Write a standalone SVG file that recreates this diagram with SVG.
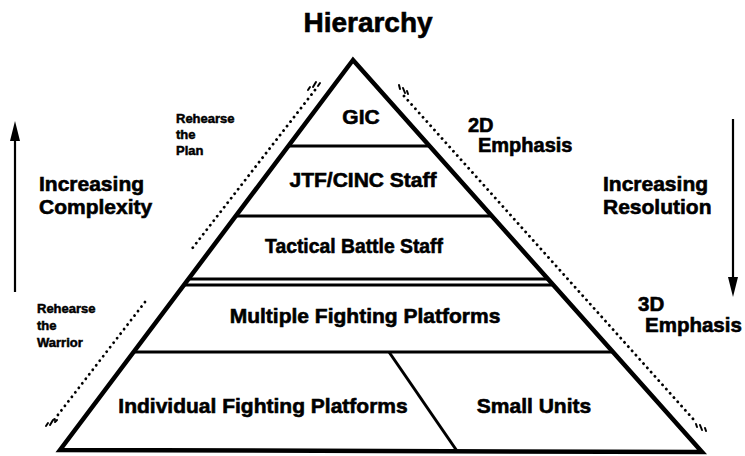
<svg xmlns="http://www.w3.org/2000/svg" width="745" height="456" viewBox="0 0 745 456">
<defs>
<style>
.t{font-family:"Liberation Sans",Arial,sans-serif;font-weight:bold;fill:#000;stroke:#000;stroke-width:0.6}
.big{font-size:21px}
.sm{font-size:13px;stroke-width:0.5}
.edge{fill:none;stroke:#000;stroke-width:4.5;stroke-linejoin:miter}
.div{fill:none;stroke:#000;stroke-width:3}
.dot{fill:none;stroke:#000;stroke-width:2.8;stroke-linecap:round;stroke-dasharray:0.1 5.6}
.tick{fill:none;stroke:#000;stroke-width:2;stroke-linecap:round}
.arr{fill:none;stroke:#000;stroke-width:2.2}
</style>
</defs>
<rect width="745" height="456" fill="#fff"/>
<text class="t" x="368" y="32" font-size="28" text-anchor="middle">Hierarchy</text>

<g id="pyramid">
<polygon class="edge" points="353,60 60,450 702,452"/>
</g>

<g id="tier-gic">
<text class="t big" x="361" y="124" text-anchor="middle">GIC</text>
</g>
<g id="tier-jtf">
<line class="div" x1="288" y1="146" x2="430" y2="146"/>
<text class="t big" x="363" y="187" text-anchor="middle">JTF/CINC Staff</text>
</g>
<g id="tier-tactical">
<line class="div" x1="236" y1="216" x2="492" y2="216"/>
<text class="t big" x="354" y="253" text-anchor="middle" textLength="178" lengthAdjust="spacingAndGlyphs">Tactical Battle Staff</text>
</g>
<g id="tier-multiple">
<line class="div" x1="188" y1="279" x2="548" y2="279"/>
<line class="div" x1="184" y1="285" x2="553" y2="285"/>
<text class="t big" x="365" y="323" text-anchor="middle">Multiple Fighting Platforms</text>
</g>
<g id="tier-individual">
<line class="div" x1="134" y1="352" x2="613" y2="352"/>
<text class="t big" x="263" y="413" text-anchor="middle">Individual Fighting Platforms</text>
</g>
<g id="tier-small">
<line class="div" x1="389" y1="352" x2="457" y2="451"/>
<text class="t big" x="534" y="413" text-anchor="middle">Small Units</text>
</g>

<g id="label-complexity">
<text class="t big" x="39" y="191">Increasing</text>
<text class="t big" x="39" y="214">Complexity</text>
</g>
<g id="label-resolution">
<text class="t big" x="603" y="191">Increasing</text>
<text class="t big" x="603" y="214">Resolution</text>
</g>
<g id="label-2d">
<text class="t" font-size="20" x="468" y="132">2D</text>
<text class="t" font-size="20" x="478" y="152">Emphasis</text>
</g>
<g id="label-3d">
<text class="t" font-size="20.5" x="638" y="311">3D</text>
<text class="t" font-size="20.5" x="645" y="332">Emphasis</text>
</g>
<g id="label-plan">
<text class="t sm" x="176" y="123">Rehearse</text>
<text class="t sm" x="176" y="139">the</text>
<text class="t sm" x="176" y="155">Plan</text>
</g>
<g id="label-warrior">
<text class="t sm" x="37" y="313">Rehearse</text>
<text class="t sm" x="37" y="330">the</text>
<text class="t sm" x="37" y="347">Warrior</text>
</g>

<g id="connectors">
<line class="arr" x1="15" y1="292" x2="15" y2="136"/>
<polygon points="15,121 10,141 20,141" fill="#000"/>
<line class="arr" x1="733" y1="119" x2="733" y2="282"/>
<polygon points="733,297 728,277 738,277" fill="#000"/>

<line class="dot" x1="315" y1="90" x2="191" y2="250"/>
<path class="tick" d="M308,90 l2,-3 M313,87 l3,-5 M318,86 l2,-3"/>
<line class="dot" x1="145" y1="302" x2="54" y2="420"/>
<path class="tick" d="M46,426 l2,-3 M50,425 l3,-5 M55,422 l2,-2"/>
<line class="dot" x1="404" y1="96" x2="694" y2="420"/>
<path class="tick" d="M399,85 l1,4 M403,88 l2,5 M407,91 l1,3"/>
<path class="tick" d="M696,424 l1,3 M700,425 l2,5 M705,428 l1,3"/>
</g>
</svg>
